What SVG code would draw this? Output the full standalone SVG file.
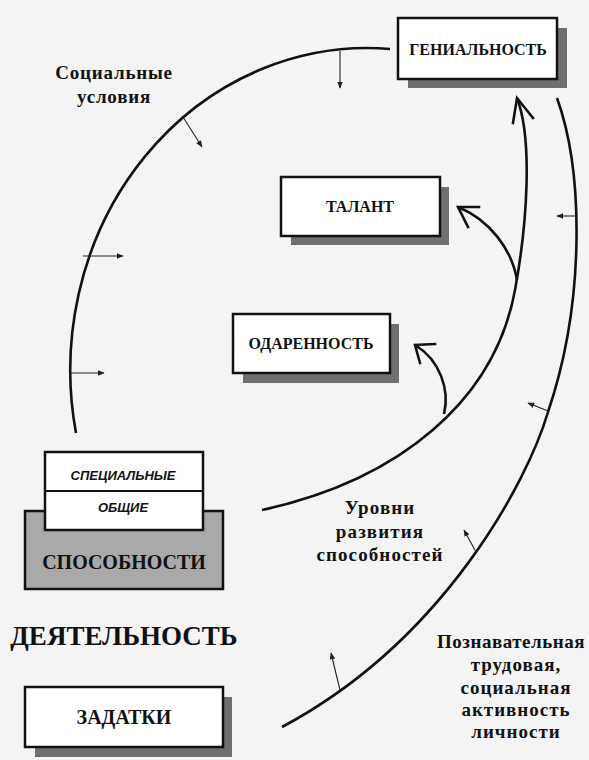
<svg xmlns="http://www.w3.org/2000/svg" width="589" height="760" viewBox="0 0 589 760">
<defs>
<style>
.bg{fill:#f4f4f4}
.box{fill:#ffffff;stroke:#111;stroke-width:2.5}
.shadow{fill:#707070}
.gray{fill:#a9a9a9;stroke:#111;stroke-width:2.5}
.lbl{font-family:"Liberation Serif",serif;font-weight:bold;fill:#111;text-anchor:middle}
.it{font-family:"Liberation Sans",sans-serif;font-weight:bold;font-style:italic;fill:#111;text-anchor:middle;font-size:13px}
.curve{fill:none;stroke:#111;stroke-width:2.6}
.chev{fill:none;stroke:#111;stroke-width:2.6;stroke-linecap:square;stroke-linejoin:miter}
.thin{fill:none;stroke:#222;stroke-width:1.1;marker-end:url(#ah)}
</style>
<marker id="ah" viewBox="0 0 10 10" refX="9" refY="5" markerWidth="7" markerHeight="7" markerUnits="userSpaceOnUse" orient="auto">
<path d="M0,1 L10,5 L0,9 Z" fill="#222"/>
</marker>
</defs>
<rect class="bg" x="0" y="0" width="589" height="760"/>

<g id="connectors">
<!-- social conditions arc -->
<path class="curve" d="M390,49 A297,322 0 0 0 76,433"/>
<line class="thin" x1="340" y1="51" x2="340" y2="88"/>
<line class="thin" x1="183" y1="117" x2="202" y2="147"/>
<line class="thin" x1="83" y1="256" x2="123" y2="256"/>
<line class="thin" x1="70" y1="373" x2="104" y2="373"/>
<!-- levels curve -->
<path class="curve" d="M262,510 C400,480 495,400 515,290 C527,225 533,140 517,98"/>
<path class="chev" d="M513,123 L517,98 L533,118"/>
<path class="curve" d="M517,280 C512,250 490,220 458,207"/>
<path class="chev" d="M479,207 L458,207 L468,227"/>
<path class="curve" d="M444,414 C450,390 440,360 415,345"/>
<path class="chev" d="M435,344 L415,345 L420,363"/>
<!-- activity arc -->
<path class="curve" d="M557,98 C583,170 586,300 548,412 C528,480 445,640 282,727"/>
<line class="thin" x1="576" y1="216" x2="557" y2="216"/>
<line class="thin" x1="548" y1="411" x2="528" y2="403"/>
<line class="thin" x1="476" y1="552" x2="464" y2="530"/>
<line class="thin" x1="340" y1="690" x2="331" y2="653"/>
</g>

<g id="genius">
<rect class="shadow" x="408" y="28" width="159" height="60"/>
<rect class="box" x="398" y="18" width="159" height="61"/>
<text class="lbl" x="478" y="55" font-size="16">ГЕНИАЛЬНОСТЬ</text>
</g>

<g id="talent">
<rect class="shadow" x="291" y="187" width="158" height="58"/>
<rect class="box" x="281" y="177" width="159" height="59"/>
<text class="lbl" x="360" y="212" font-size="16">ТАЛАНТ</text>
</g>

<g id="giftedness">
<rect class="shadow" x="243" y="324" width="156" height="59"/>
<rect class="box" x="233" y="314" width="157" height="59"/>
<text class="lbl" x="311" y="349" font-size="16">ОДАРЕННОСТЬ</text>
</g>

<g id="abilities">
<rect class="gray" x="25" y="511" width="198" height="78"/>
<text class="lbl" x="124" y="569" font-size="20">СПОСОБНОСТИ</text>
</g>

<g id="special-general">
<rect class="box" x="45" y="452" width="158" height="78"/>
<line x1="45" y1="491" x2="203" y2="491" stroke="#111" stroke-width="2"/>
<text class="it" x="123" y="480">СПЕЦИАЛЬНЫЕ</text>
<text class="it" x="123" y="512">ОБЩИЕ</text>
</g>

<g id="activity">
<text class="lbl" x="124" y="645" font-size="27">ДЕЯТЕЛЬНОСТЬ</text>
</g>

<g id="inclinations">
<rect class="shadow" x="35" y="697" width="197" height="60"/>
<rect class="box" x="25" y="687" width="198" height="60"/>
<text class="lbl" x="124" y="724" font-size="20">ЗАДАТКИ</text>
</g>

<g id="social-label">
<text class="lbl" x="114" y="79" font-size="19" letter-spacing="0.8">Социальные</text>
<text class="lbl" x="114" y="103" font-size="19" letter-spacing="0.8">условия</text>
</g>

<g id="levels-label">
<text class="lbl" x="380" y="514" font-size="19" letter-spacing="1.1">Уровни</text>
<text class="lbl" x="380" y="538" font-size="19" letter-spacing="1.1">развития</text>
<text class="lbl" x="380" y="561" font-size="19" letter-spacing="1.1">способностей</text>
</g>

<g id="activity-label">
<text class="lbl" x="511" y="648" font-size="19" letter-spacing="0.5">Познавательная</text>
<text class="lbl" x="516" y="671" font-size="19" letter-spacing="1">трудовая,</text>
<text class="lbl" x="516" y="694" font-size="19" letter-spacing="1">социальная</text>
<text class="lbl" x="516" y="716" font-size="19" letter-spacing="1">активность</text>
<text class="lbl" x="516" y="738" font-size="19" letter-spacing="1">личности</text>
</g>
</svg>
